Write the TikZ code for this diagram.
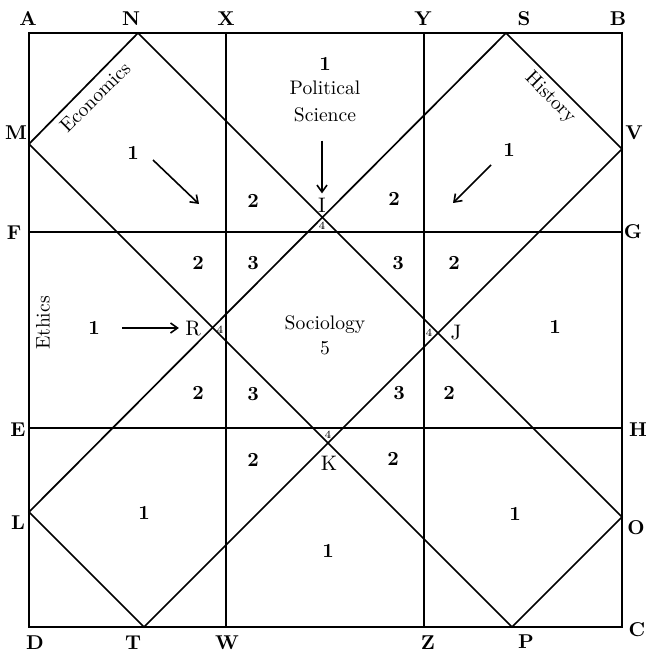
\documentclass[tikz,border=0pt]{standalone}
\usetikzlibrary{arrows.meta}
\begin{document}
\begin{tikzpicture}[x=0.5pt,y=-0.5pt,
  frame/.style={line width=1.1pt},
  grid/.style={line width=0.85pt},
  diag/.style={line width=0.85pt, line join=miter},
  corner/.style={font=\fontsize{10pt}{12pt}\selectfont\bfseries, inner sep=0pt},
  num/.style={font=\fontsize{10pt}{12pt}\selectfont\bfseries, inner sep=0pt},
  subj/.style={font=\fontsize{9.8pt}{11pt}\selectfont, inner sep=0pt},
  pt/.style={font=\fontsize{10.5pt}{12pt}\selectfont, inner sep=0pt},
  tiny4/.style={font=\fontsize{5.5pt}{6pt}\selectfont, inner sep=0pt},
  arr/.style={line width=0.8pt, -{Straight Barb[length=3.5pt,width=5pt]}}]
\useasboundingbox (0,0) rectangle (646,652);
% corner and side points
\coordinate (A) at (29,33);  \coordinate (B) at (622,33);
\coordinate (C) at (622,627); \coordinate (D) at (29,627);
\coordinate (X) at (226,33);  \coordinate (W) at (226,627);
\coordinate (Y) at (424,33);  \coordinate (Z) at (424,627);
\coordinate (F) at (29,232);  \coordinate (G) at (622,232);
\coordinate (E) at (29,428);  \coordinate (H) at (622,428);
\coordinate (N) at (138,33);  \coordinate (O) at (622,517);
\coordinate (P) at (512,627); \coordinate (M) at (29,144);
\coordinate (S) at (506,33);  \coordinate (V) at (622,149);
\coordinate (T) at (144,627); \coordinate (L) at (29,512);
% lines
\draw[grid] (X) -- (W);
\draw[grid] (Y) -- (Z);
\draw[grid] (F) -- (G);
\draw[grid] (E) -- (H);
\draw[diag] (M) -- (N) -- (O) -- (P) -- cycle;
\draw[diag] (S) -- (V) -- (T) -- (L) -- cycle;
\draw[frame] (A) -- (B) -- (C) -- (D) -- cycle;
% point labels
\node[corner] (lA) at (28,19) {A};
\node[corner] (lN) at (131,19) {N};
\node[corner] (lX) at (226,19) {X};
\node[corner] (lY) at (423,19) {Y};
\node[corner] (lS) at (524,19) {S};
\node[corner] (lB) at (618,19) {B};
\node[corner] (lM) at (16,133) {M};
\node[corner] (lF) at (14,233) {F};
\node[corner] (lE) at (18,430) {E};
\node[corner] (lL) at (18,523) {L};
\node[corner] (lD) at (35,643) {D};
\node[corner] (lT) at (133,643) {T};
\node[corner] (lW) at (227,643) {W};
\node[corner] (lZ) at (428,643) {Z};
\node[corner] (lP) at (526,642) {P};
\node[corner] (lC) at (637,630) {C};
\node[corner] (lO) at (636,528) {O};
\node[corner] (lH) at (638,430) {H};
\node[corner] (lG) at (633,232) {G};
\node[corner] (lV) at (634,133) {V};
% subject names
\node[subj, rotate=45] (econ) at (95,97) {Economics};
\node[subj, rotate=-45] (hist) at (550,98) {History};
\node[subj, rotate=90] (eth) at (43,323) {Ethics};
\node[num] (ps1) at (325,64) {1};
\node[subj] (pol) at (325,88) {Political};
\node[subj] (sci) at (325,115) {Science};
\node[subj] (soc) at (325,325) {Sociology};
\node[subj] (soc5) at (325,348) {5};
% inner diamond letters
\node[pt] (lI) at (322,205) {I};
\node[pt] (lR) at (193,329) {R};
\node[pt] (lJ) at (456,333) {J};
\node[pt] (lK) at (329,463) {K};
\node[tiny4] (f1) at (322,226) {4};
\node[tiny4] (f2) at (220,330) {4};
\node[tiny4] (f3) at (429,333) {4};
\node[tiny4] (f4) at (328,435) {4};
% region numbers
\node[num] (e1) at (133,153) {1};
\node[num] (h1) at (509,150) {1};
\node[num] (t2a) at (253,201) {2};
\node[num] (t2b) at (394,199) {2};
\node[num] (u2a) at (198,263) {2};
\node[num] (u3a) at (253,263) {3};
\node[num] (u3b) at (398,263) {3};
\node[num] (u2b) at (454,263) {2};
\node[num] (eth1) at (94,328) {1};
\node[num] (r1) at (555,327) {1};
\node[num] (d2a) at (198,393) {2};
\node[num] (d3a) at (253,394) {3};
\node[num] (d3b) at (399,393) {3};
\node[num] (d2b) at (449,393) {2};
\node[num] (k2a) at (253,460) {2};
\node[num] (k2b) at (393,459) {2};
\node[num] (b1a) at (144,513) {1};
\node[num] (b1b) at (328,551) {1};
\node[num] (b1c) at (515,514) {1};
% arrows
\coordinate (ea1) at (153,160); \coordinate (ea2) at (199,204);
\coordinate (ha1) at (491,165); \coordinate (ha2) at (453,203);
\draw[arr] (ea1) -- (ea2);
\draw[arr] (ha1) -- (ha2);
\draw[arr, shorten <=9pt, shorten >=2pt] (sci.south -| lI) -- (lI.north);
\draw[arr, shorten <=11pt, shorten >=3pt] (eth1.east) -- (eth1.east -| lR.west);
\end{tikzpicture}
\end{document}
